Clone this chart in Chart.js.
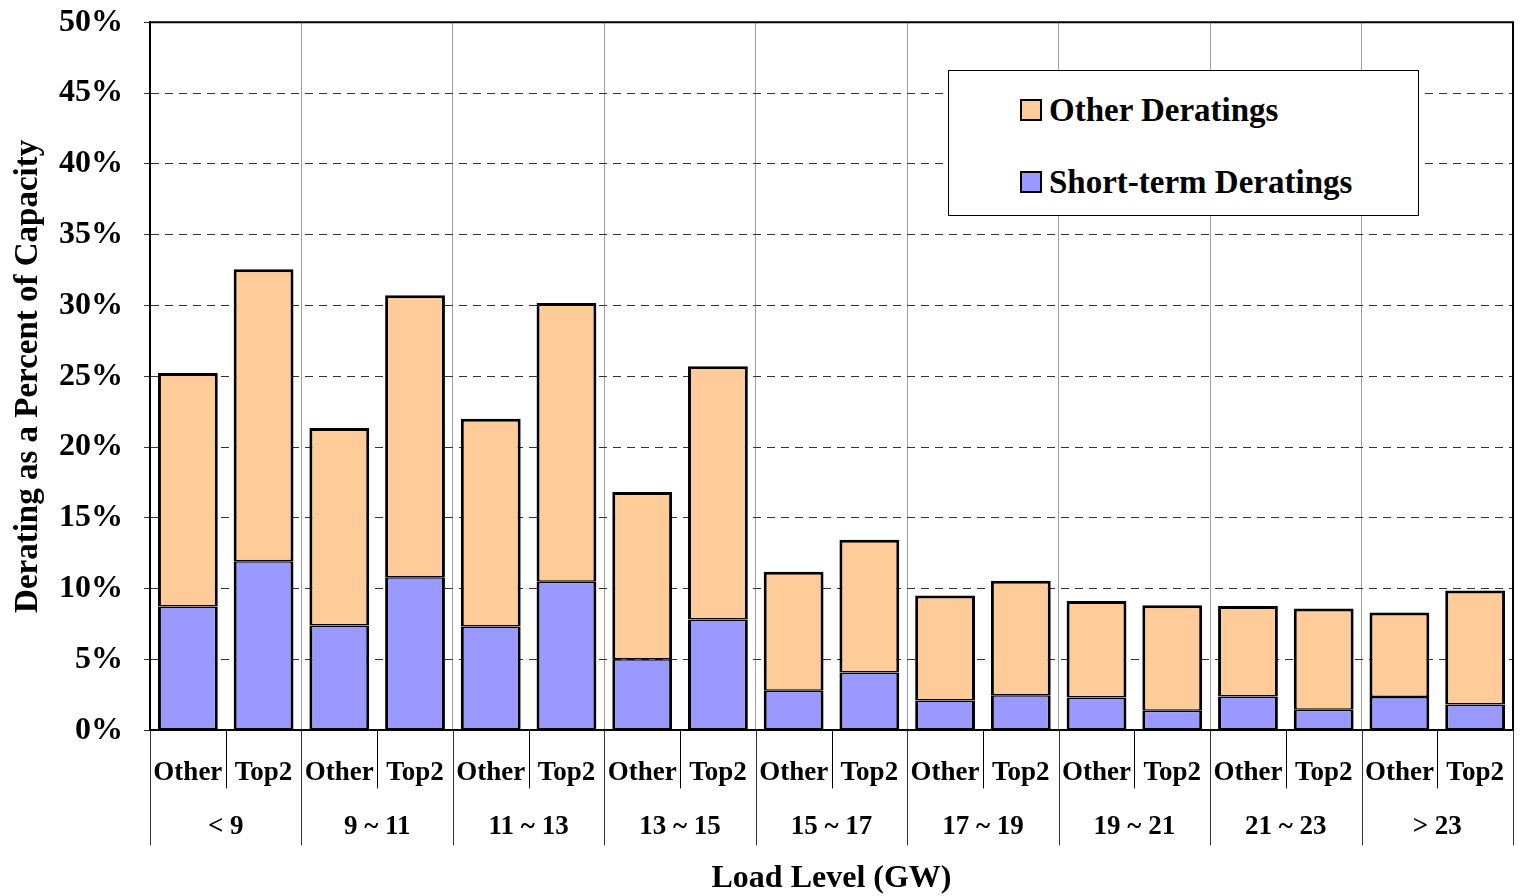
<!DOCTYPE html>
<html>
<head>
<meta charset="utf-8">
<script src="https://cdn.jsdelivr.net/npm/chart.js@4/dist/chart.umd.min.js"></script>
<style>
  body { margin: 0; background: #fff; }
  #wrap { position: relative; width: 1520px; height: 896px; }
  #legend {
    position: absolute; left: 948px; top: 70px; width: 469px; height: 144px;
    background: #fff; border: 1px solid #000;
    font: bold 33px "Liberation Serif", "Times New Roman", serif; color: #000;
  }
  .row { position: absolute; left: 71px; height: 40px; display: flex; align-items: center; }
  .sw { width: 18px; height: 18px; border: 2px solid #000; margin-right: 7px; }
</style>
</head>
<body>
<div id="wrap">
  <canvas id="myChart" width="1520" height="896"></canvas>
  <div id="legend"></div>
</div>
<script>
  const loadGroups = ["< 9", "9 ~ 11", "11 ~ 13", "13 ~ 15", "15 ~ 17", "17 ~ 19", "19 ~ 21", "21 ~ 23", "> 23"];
  const unitTypes = ["Other", "Top2"];
  // values in percent of capacity, two bars (Other, Top2) per load group
  const shortTerm = [8.74, 11.94, 7.40, 10.81, 7.33, 10.49, 5.03, 7.83, 2.80, 4.09, 2.12, 2.49, 2.33, 1.39, 2.40, 1.46, 2.35, 1.83];
  const otherDeratings = [16.49, 20.62, 13.95, 19.91, 14.67, 19.69, 11.80, 17.89, 8.41, 9.38, 7.40, 8.07, 6.81, 7.45, 6.39, 7.14, 5.97, 8.04];
  const yTicks = [0, 5, 10, 15, 20, 25, 30, 35, 40, 45, 50];

  const barLabels = loadGroups.flatMap(() => unitTypes);
  const serif = "'Liberation Serif', 'Times New Roman', serif";

  // black frame on top/right and the separator lines under the x axis
  const frame = {
    id: "frame",
    afterDraw(chart) {
      const { ctx, chartArea: a } = chart;
      const x = chart.scales.x;
      const half = (x.getPixelForValue(1) - x.getPixelForValue(0)) / 2;
      ctx.save();
      ctx.strokeStyle = "#000";
      ctx.lineWidth = 2;
      ctx.beginPath();
      ctx.moveTo(a.left, a.top);
      ctx.lineTo(a.right, a.top);
      ctx.lineTo(a.right, a.bottom);
      ctx.stroke();
      ctx.lineWidth = 1;
      for (let i = 0; i <= barLabels.length; i++) {
        const px = Math.round(x.getPixelForValue(Math.min(i, barLabels.length - 1)) + (i < barLabels.length ? -half : half)) + 0.5;
        const len = i % 2 === 0 ? 115 : 58;
        ctx.strokeStyle = i % 2 === 0 ? "#333" : "#000";
        ctx.beginPath();
        ctx.moveTo(px, a.bottom);
        ctx.lineTo(px, a.bottom + len);
        ctx.stroke();
      }
      ctx.restore();
    },
  };

  const ctx = document.getElementById("myChart").getContext("2d");
  const chart = new Chart(ctx, {
    type: "bar",
    data: {
      labels: barLabels,
      datasets: [
        {
          label: "Short-term Deratings",
          data: shortTerm,
          backgroundColor: "#9999ff",
          borderColor: "#000",
          borderWidth: { top: 1.5, right: 3, bottom: 2, left: 3 },
          borderSkipped: false,
          inflateAmount: 0,
        },
        {
          label: "Other Deratings",
          data: otherDeratings,
          backgroundColor: "#ffcc99",
          borderColor: "#000",
          borderWidth: { top: 3, right: 3, bottom: 1.5, left: 3 },
          borderSkipped: false,
          inflateAmount: 0,
        },
      ],
    },
    options: {
      responsive: false,
      animation: false,
      barPercentage: 0.79,
      categoryPercentage: 1,
      layout: { padding: { left: 0, right: 7, top: 0, bottom: 0 } },
      plugins: { legend: { display: false }, tooltip: { enabled: false } },
      scales: {
        x: {
          stacked: true,
          weight: 0,
          grid: { offset: true, drawOnChartArea: false, tickLength: 16, tickColor: "rgba(0,0,0,0)" },
          border: { color: "#000", width: 2 },
          ticks: {
            autoSkip: false, maxRotation: 0, padding: 10, color: "#000",
            font: { family: serif, size: 27, weight: "bold" },
          },
        },
        xGroup: {
          type: "category",
          position: "bottom",
          labels: loadGroups,
          weight: 1,
          grid: { offset: true, drawOnChartArea: true, color: "#a0a0a0", tickColor: "rgba(0,0,0,0)", tickLength: 7, lineWidth: 1 },
          border: { display: false },
          ticks: {
            autoSkip: false, maxRotation: 0, padding: 5, color: "#000",
            font: { family: serif, size: 27, weight: "bold" },
          },
          title: {
            display: true, text: "Load Level (GW)", color: "#000",
            font: { family: serif, size: 32, weight: "bold", lineHeight: 1.1 },
            padding: { top: 12.6, bottom: 0 },
          },
        },
        y: {
          stacked: true,
          min: 0,
          max: 50,
          afterBuildTicks: (axis) => { axis.ticks = yTicks.map((v) => ({ value: v })); },
          grid: { color: "#333", tickLength: 22, lineWidth: 1, tickColor: "#333", tickBorderDash: [0, 16, 6, 60] },
          border: { color: "#000", width: 2, dash: [8, 6] },
          ticks: {
            padding: 5, color: "#000",
            font: { family: serif, size: 32, weight: "bold", lineHeight: 1.08 },
            callback: (value) => value + "%",
          },
          title: {
            display: true, text: "Derating as a Percent of Capacity", color: "#000",
            font: { family: serif, size: 33, weight: "bold", lineHeight: 1 },
            padding: { top: 11.5, bottom: 9.5 },
          },
        },
      },
    },
    plugins: [frame],
  });

  // legend box, built from the datasets (Other on top)
  const legend = document.getElementById("legend");
  const rowTops = [19, 91];
  chart.data.datasets.slice().reverse().forEach((ds, i) => {
    const row = document.createElement("div");
    row.className = "row";
    row.style.top = rowTops[i] + "px";
    const sw = document.createElement("span");
    sw.className = "sw";
    sw.style.background = ds.backgroundColor;
    const txt = document.createElement("span");
    txt.textContent = ds.label;
    row.appendChild(sw);
    row.appendChild(txt);
    legend.appendChild(row);
  });
</script>
</body>
</html>
